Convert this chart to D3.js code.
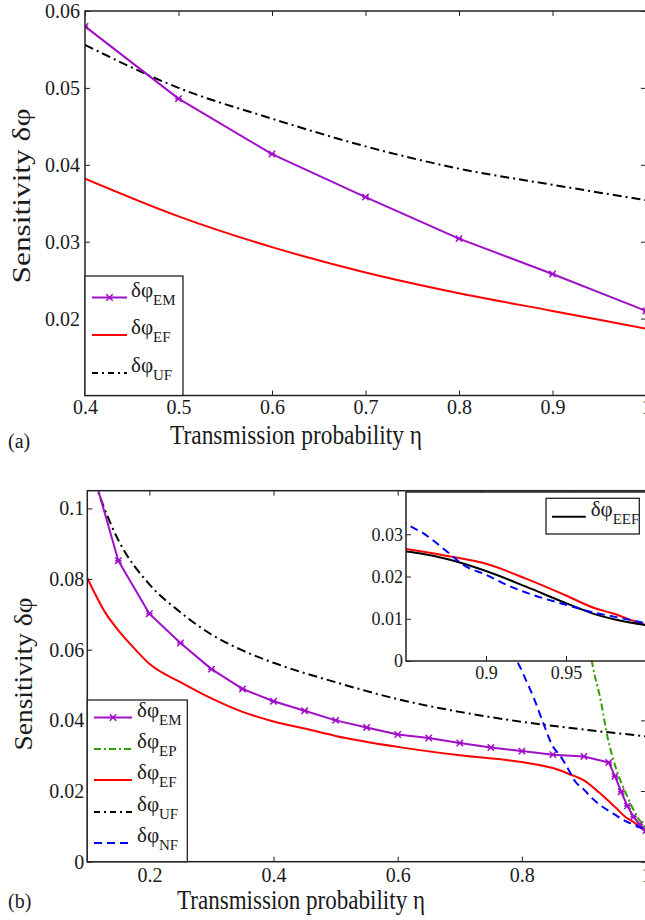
<!DOCTYPE html>
<html><head><meta charset="utf-8">
<script src="https://cdn.jsdelivr.net/npm/d3@7/dist/d3.min.js"></script>
<style>
body{margin:0;background:#fff}
svg{display:block}
text{font-family:"Liberation Serif","Times New Roman",serif;fill:#1a1a1a}
</style></head><body>
<svg id="c" width="645" height="920" font-family="Liberation Serif, Times New Roman, serif"></svg>
<script>
// ---------- data: panel (a) ----------
const aEta = [0.4,0.5,0.6,0.7,0.8,0.9,1.0];
const aEM  = [0.0580,0.0486,0.0414,0.0358,0.0304,0.0258,0.0210];
const aEF  = [0.0382,0.0333,0.0293,0.0260,0.0233,0.0210,0.0187];
const aUF  = [0.0556,0.0500,0.0460,0.0424,0.0395,0.0374,0.0354];
const aXTicks = [0.4,0.5,0.6,0.7,0.8,0.9,1.0];
const aYTicks = [0.02,0.03,0.04,0.05,0.06];

// ---------- data: panel (b) ----------
const emEta = [0.1,0.15,0.2,0.25,0.3,0.35,0.4,0.45,0.5,0.55,0.6,0.65,0.7,0.75,0.8,0.85,0.9,0.94,0.95,0.96,0.97,0.98,0.99,1.0];
const emVal = [0.116,0.0852,0.0702,0.0619,0.0545,0.0489,0.0454,0.0427,0.0400,0.0380,0.0360,0.0350,0.0336,0.0323,0.0313,0.0303,0.0298,0.0281,0.0242,0.0198,0.0158,0.0127,0.0105,0.0088];
const epEta = [0.88,0.895,0.914,0.927,0.938,0.951,0.97,0.986,1.0];
const epVal = [0.112,0.080,0.0556,0.0457,0.0353,0.0268,0.0184,0.0127,0.0095];
const efEta = [0.1,0.13,0.15,0.175,0.2,0.25,0.3,0.35,0.4,0.45,0.5,0.6,0.7,0.8,0.85,0.875,0.9,0.925,0.95,0.968,0.98,0.99,1.0];
const efVal = [0.0803,0.0702,0.0655,0.0605,0.0560,0.0508,0.0462,0.0424,0.0397,0.0377,0.0356,0.0325,0.0301,0.0282,0.0265,0.0249,0.0230,0.0195,0.0155,0.0125,0.0112,0.0098,0.0085];
const ufEta = [0.1,0.15,0.2,0.25,0.3,0.35,0.4,0.5,0.6,0.7,0.8,0.9,1.0];
const ufVal = [0.113,0.091,0.0785,0.0706,0.0643,0.0598,0.0563,0.0508,0.0460,0.0424,0.0396,0.0374,0.0355];
const nfEta = [0.72,0.735,0.75,0.77,0.79,0.80,0.82,0.835,0.85,0.861,0.875,0.886,0.9,0.913,0.925,0.95,0.968,0.98,1.0];
const nfVal = [0.125,0.105,0.091,0.074,0.058,0.054,0.046,0.039,0.0326,0.0302,0.0261,0.0227,0.0204,0.0180,0.0162,0.0133,0.0114,0.0105,0.0089];
const eefEta = [0.85,0.86,0.875,0.9,0.925,0.95,0.968,0.98,1.0];
const eefVal = [0.0259,0.0254,0.0242,0.0213,0.0176,0.0137,0.0111,0.0099,0.0085];
const bXTicks = [0.2,0.4,0.6,0.8,1.0];
const bYTicks = [0,0.02,0.04,0.06,0.08,0.1];
const inXTicks = [0.9,0.95];
const inYTicks = [0,0.01,0.02,0.03];

const C = {EM:"#a010c8", EP:"#33a000", EF:"#ff0000", UF:"#000000", NF:"#0000ff", EEF:"#000000"};
const SERIF = "Liberation Serif, Times New Roman, serif";
const zip = (a,b)=>a.map((v,i)=>[v,b[i]]);
const svg = d3.select("#c");
const fmt = d => d===0 ? "0" : (d===1 ? "1" : String(+d.toFixed(3)));

function frame(g, x, y, xt, yt, opts){
  const [x0,x1] = x.range(), [y0,y1] = y.range();
  const axB = d3.axisBottom(x).tickValues(xt).tickSizeInner(-5).tickSizeOuter(0).tickPadding(opts.xpad).tickFormat(fmt);
  const axL = d3.axisLeft(y).tickValues(yt).tickSizeInner(-5).tickSizeOuter(0).tickPadding(opts.ypad).tickFormat(fmt);
  const axT = d3.axisTop(x).tickValues(xt).tickSizeInner(-5).tickSizeOuter(0).tickFormat("");
  const axR = d3.axisRight(y).tickValues(yt).tickSizeInner(-5).tickSizeOuter(0).tickFormat("");
  g.append("g").attr("transform",`translate(0,${y0})`).call(axB);
  g.append("g").attr("transform",`translate(${x0},0)`).call(axL);
  if(opts.mirror){
    g.append("g").attr("transform",`translate(0,${y1})`).call(axT);
    g.append("g").attr("transform",`translate(${x1},0)`).call(axR);
  }
  g.selectAll("g").attr("font-family",SERIF);
  g.selectAll(".domain").remove();
  g.selectAll(".tick line").attr("stroke","#222").attr("stroke-width",1);
  g.selectAll(".tick text").attr("font-family",SERIF).style("font-size",opts.fs+"px").attr("fill","#1a1a1a");
  g.append("rect").attr("x",x0).attr("y",y1).attr("width",x1-x0).attr("height",y0-y1)
    .attr("fill","none").attr("stroke","#222").attr("stroke-width",1.5);
}

function clip(id, x, y){
  const [x0,x1] = x.range(), [y0,y1] = y.range();
  svg.append("clipPath").attr("id",id).append("rect").attr("x",x0).attr("y",y1).attr("width",x1-x0).attr("height",y0-y1);
}

function drawLine(g, x, y, data, color, dash, curve){
  const ln = d3.line().x(d=>x(d[0])).y(d=>y(d[1])).curve(curve||d3.curveMonotoneX);
  g.append("path").datum(data).attr("d",ln).attr("fill","none").attr("stroke",color)
    .attr("stroke-width",2).attr("stroke-dasharray",dash||null).attr("stroke-linejoin","round");
}
function drawMarkers(g, x, y, data, color){
  const s=3.2;
  g.selectAll(null).data(data).enter().append("path")
    .attr("d",d=>{const cx=x(d[0]),cy=y(d[1]);return `M${cx-s},${cy-s}L${cx+s},${cy+s}M${cx-s},${cy+s}L${cx+s},${cy-s}M${cx-s},${cy}L${cx+s},${cy}`;})
    .attr("stroke",color).attr("stroke-width",1.5).attr("fill","none");
}

function legend(g, x0, y0, w, h, items){
  g.append("rect").attr("x",x0).attr("y",y0).attr("width",w).attr("height",h).attr("fill","#fff").attr("stroke","#222").attr("stroke-width",1.3);
  items.forEach(it=>{
    g.append("line").attr("x1",it.lx1).attr("x2",it.lx2).attr("y1",it.y).attr("y2",it.y)
      .attr("stroke",it.color).attr("stroke-width",2).attr("stroke-dasharray",it.dash||null);
    if(it.marker){
      const cx=(it.lx1+it.lx2)/2, s=3.2;
      g.append("path").attr("d",`M${cx-s},${it.y-s}L${cx+s},${it.y+s}M${cx-s},${it.y+s}L${cx+s},${it.y-s}`).attr("stroke",it.color).attr("stroke-width",1.5);
    }
    const t = g.append("text").attr("x",it.tx).attr("y",it.y-1).attr("font-family",SERIF).style("font-size","21px");
    t.append("tspan").text("δφ");
    t.append("tspan").attr("dy",8).style("font-size","15px").text(it.sub);
  });
}

// ================= Panel (a) =================
const xa = d3.scaleLinear().domain([0.4,1.0]).range([85,646]);
const ya = d3.scaleLinear().domain([0.01,0.06]).range([395.5,11]);
clip("clipA", xa, ya);
const gA = svg.append("g");
const gAd = gA.append("g").attr("clip-path","url(#clipA)");
drawLine(gAd, xa, ya, zip(aEta,aUF), C.UF, "9,4,2,4");
drawLine(gAd, xa, ya, zip(aEta,aEF), C.EF);
drawLine(gAd, xa, ya, zip(aEta,aEM), C.EM, null, d3.curveLinear);
drawMarkers(gAd, xa, ya, zip(aEta,aEM), C.EM);
frame(gA, xa, ya, aXTicks, aYTicks, {xpad:4, ypad:5, fs:20, mirror:true});
legend(gA, 85, 276, 98, 119.5, [
  {sub:"EM", color:C.EM, y:297.5, lx1:92, lx2:127, tx:131, marker:true},
  {sub:"EF", color:C.EF, y:335, lx1:92, lx2:127, tx:131},
  {sub:"UF", color:C.UF, y:373, lx1:92, lx2:127, tx:131, dash:"6,4,2,4"}
]);
svg.append("text").attr("transform","translate(30,196) rotate(-90) scale(1,0.85)").attr("font-family",SERIF)
  .attr("text-anchor","middle").style("font-size","30px").attr("textLength",175).attr("lengthAdjust","spacingAndGlyphs").text("Sensitivity δφ");
svg.append("text").attr("x",296).attr("y",444).attr("text-anchor","middle").attr("font-family",SERIF).style("font-size","28px")
  .attr("textLength",252).attr("lengthAdjust","spacingAndGlyphs").text("Transmission probability η");
svg.append("text").attr("x",8).attr("y",448).attr("font-family",SERIF).style("font-size","20px").text("(a)");

// ================= Panel (b) =================
const xb = d3.scaleLinear().domain([0.1,1.0]).range([87.3,646]);
const yb = d3.scaleLinear().domain([0,0.105]).range([861.7,490.7]);
clip("clipB", xb, yb);
const gB = svg.append("g");
const gBd = gB.append("g").attr("clip-path","url(#clipB)");
drawLine(gBd, xb, yb, zip(ufEta,ufVal), C.UF, "9,4,2,4");
drawLine(gBd, xb, yb, zip(efEta,efVal), C.EF);
drawLine(gBd, xb, yb, zip(emEta,emVal), C.EM, null, d3.curveLinear);
drawMarkers(gBd, xb, yb, zip(emEta,emVal), C.EM);
drawLine(gBd, xb, yb, zip(epEta,epVal), C.EP, "7,3,2,3");
drawLine(gBd, xb, yb, zip(nfEta,nfVal), C.NF, "8,5");
frame(gB, xb, yb, bXTicks, bYTicks, {xpad:6, ypad:3, fs:20, mirror:true});
legend(gB, 87.3, 700, 100, 161.7, [
  {sub:"EM", color:C.EM, y:717.5, lx1:94, lx2:132, tx:137, marker:true},
  {sub:"EP", color:C.EP, y:749, lx1:94, lx2:132, tx:137, dash:"7,3,2,3"},
  {sub:"EF", color:C.EF, y:780, lx1:94, lx2:132, tx:137},
  {sub:"UF", color:C.UF, y:812, lx1:94, lx2:132, tx:137, dash:"6,4,2,4"},
  {sub:"NF", color:C.NF, y:843, lx1:94, lx2:132, tx:137, dash:"8,5"}
]);
svg.append("text").attr("transform","translate(32,674) rotate(-90) scale(1,0.85)").attr("font-family",SERIF)
  .attr("text-anchor","middle").style("font-size","30px").attr("textLength",153).attr("lengthAdjust","spacingAndGlyphs").text("Sensitivity δφ");
svg.append("text").attr("x",301).attr("y",909).attr("text-anchor","middle").attr("font-family",SERIF).style("font-size","28px")
  .attr("textLength",248).attr("lengthAdjust","spacingAndGlyphs").text("Transmission probability η");
svg.append("text").attr("x",8).attr("y",908).attr("font-family",SERIF).style("font-size","20px").text("(b)");

// ================= Inset =================
const xi = d3.scaleLinear().domain([0.85,1.0]).range([406,646]);
const yi = d3.scaleLinear().domain([0,0.04]).range([661,492]);
const gI = svg.append("g");
gI.append("rect").attr("x",406).attr("y",492).attr("width",240).attr("height",169).attr("fill","#fff");
clip("clipI", xi, yi);
const gId = gI.append("g").attr("clip-path","url(#clipI)");
drawLine(gId, xi, yi, zip(efEta,efVal), C.EF);
drawLine(gId, xi, yi, zip(eefEta,eefVal), C.EEF);
drawLine(gId, xi, yi, zip(nfEta,nfVal), C.NF, "8,5");
frame(gI, xi, yi, inXTicks, inYTicks, {xpad:5, ypad:3, fs:18, mirror:false});
legend(gI, 546, 498.3, 93.3, 35.7, [
  {sub:"EEF", color:C.EEF, y:516.7, lx1:552, lx2:585.7, tx:590.7}
]);
</script>
</body></html>
